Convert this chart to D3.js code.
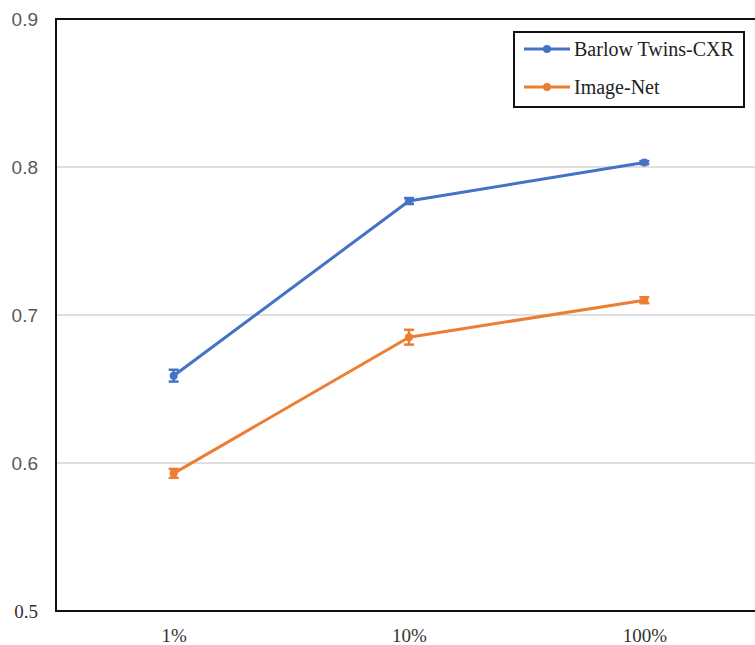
<!DOCTYPE html>
<html>
<head>
<meta charset="utf-8">
<script src="https://cdn.jsdelivr.net/npm/d3@7"></script>
<style>
  html, body { margin: 0; padding: 0; background: #fff; }
  svg { display: block; }
</style>
</head>
<body>
<svg id="chart" width="755" height="645"></svg>
<script>
// Label fractions and mean scores with error half-widths
const categories = ["1%", "10%", "100%"];
const barlowValues = [0.659, 0.777, 0.803];
const barlowErrors = [0.004, 0.002, 0.001];
const imagenetValues = [0.593, 0.685, 0.710];
const imagenetErrors = [0.003, 0.005, 0.002];
const yTicks = [0.5, 0.6, 0.7, 0.8, 0.9];
const seriesNames = ["Barlow Twins-CXR", "Image-Net"];

const series = [
  { name: seriesNames[0], values: barlowValues, errors: barlowErrors, color: "#4472C4" },
  { name: seriesNames[1], values: imagenetValues, errors: imagenetErrors, color: "#ED7D31" }
];

const svg = d3.select("#chart");
const plotLeft = 56, plotTop = 19, plotBottom = 611, plotRight = 762;

const x = d3.scalePoint().domain(categories).range([plotLeft, plotRight]).padding(0.5);
const y = d3.scaleLinear().domain([0.5, 0.9]).range([plotBottom, plotTop]);

// horizontal gridlines
svg.append("g").selectAll("line")
  .data(yTicks.filter(t => t > 0.5 && t < 0.9))
  .join("line")
  .attr("x1", plotLeft).attr("x2", plotRight)
  .attr("y1", d => y(d)).attr("y2", d => y(d))
  .attr("stroke", "#d4d4d4").attr("stroke-width", 1.5);

// plot frame
svg.append("rect")
  .attr("x", plotLeft).attr("y", plotTop)
  .attr("width", plotRight - plotLeft).attr("height", plotBottom - plotTop)
  .attr("fill", "none").attr("stroke", "#111").attr("stroke-width", 2);

// y axis labels
const yAxis = d3.axisLeft(y).tickValues(yTicks).tickSize(0).tickPadding(18)
  .tickFormat(d3.format(".1f"));
const yg = svg.append("g").attr("transform", `translate(${plotLeft},0)`).call(yAxis);
yg.select(".domain").remove();
yg.selectAll("text")
  .attr("font-family", d => d === 0.5 ? "Liberation Serif, serif" : "Liberation Sans, Arial, sans-serif")
  .attr("font-size", 19)
  .attr("fill", d => d === 0.5 ? "#333" : "#595959");

// x axis labels
const xAxis = d3.axisBottom(x).tickSize(0).tickPadding(18);
const xg = svg.append("g").attr("transform", `translate(0,${plotBottom})`).call(xAxis);
xg.select(".domain").remove();
xg.selectAll("text")
  .attr("font-family", "Liberation Serif, serif")
  .attr("font-size", 19)
  .attr("fill", "#333");

// lines, error bars, markers
const line = d3.line().x((d, i) => x(categories[i])).y(d => y(d));
series.forEach(s => {
  const g = svg.append("g");
  g.append("path")
    .attr("d", line(s.values))
    .attr("fill", "none").attr("stroke", s.color).attr("stroke-width", 3)
    .attr("stroke-linejoin", "round");
  s.values.forEach((v, i) => {
    const cx = x(categories[i]);
    const y1 = y(v + s.errors[i]), y2 = y(v - s.errors[i]);
    g.append("line").attr("x1", cx).attr("x2", cx).attr("y1", y1).attr("y2", y2)
      .attr("stroke", s.color).attr("stroke-width", 2.5);
    [y1, y2].forEach(yy => g.append("line")
      .attr("x1", cx - 5).attr("x2", cx + 5).attr("y1", yy).attr("y2", yy)
      .attr("stroke", s.color).attr("stroke-width", 2.5));
    g.append("circle").attr("cx", cx).attr("cy", y(v)).attr("r", 4).attr("fill", s.color);
  });
});

// legend
const lg = svg.append("g");
lg.append("rect").attr("x", 514).attr("y", 32).attr("width", 230).attr("height", 75)
  .attr("fill", "#fff").attr("stroke", "#111").attr("stroke-width", 2);
series.forEach((s, i) => {
  const ly = 49 + i * 38;
  lg.append("line").attr("x1", 524).attr("x2", 570).attr("y1", ly).attr("y2", ly)
    .attr("stroke", s.color).attr("stroke-width", 3);
  lg.append("circle").attr("cx", 547).attr("cy", ly).attr("r", 4).attr("fill", s.color);
  lg.append("text").attr("x", 574).attr("y", ly + 7)
    .attr("font-family", "Liberation Serif, serif").attr("font-size", 20)
    .attr("fill", "#222").text(s.name);
});
</script>
</body>
</html>
